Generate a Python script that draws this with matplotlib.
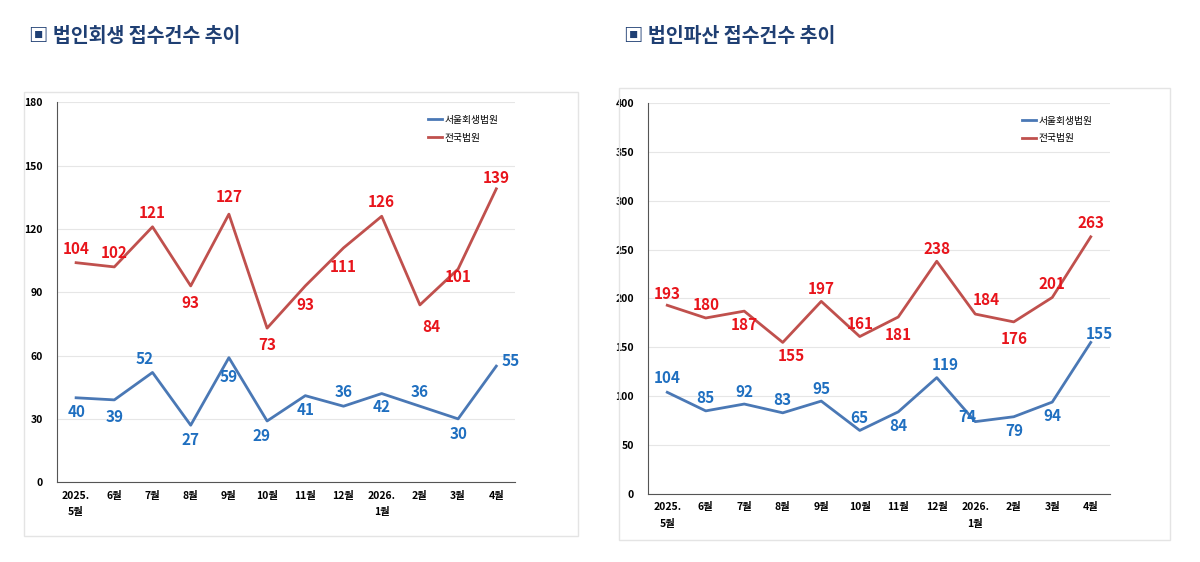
import matplotlib
matplotlib.use("Agg")
import matplotlib.pyplot as plt
from matplotlib.patches import Rectangle

plt.rcParams['font.family'] = ['Noto Sans CJK KR', 'DejaVu Sans']

months = ["2025.\n5월", "6월", "7월", "8월", "9월", "10월", "11월", "12월", "2026.\n1월", "2월", "3월", "4월"]
rehab_seoul = [40, 39, 52, 27, 59, 29, 41, 36, 42, 36, 30, 55]
rehab_nat = [104, 102, 121, 93, 127, 73, 93, 111, 126, 84, 101, 139]
bank_seoul = [104, 85, 92, 83, 95, 65, 84, 119, 74, 79, 94, 155]
bank_nat = [193, 180, 187, 155, 197, 161, 181, 238, 184, 176, 201, 263]
series_names = ["서울회생법원", "전국법원"]
titles = ["▣ 법인회생 접수건수 추이", "▣ 법인파산 접수건수 추이"]

# label offsets (points)
off_rs = [(0, -10), (0, -12), (-6, 10), (0, -11), (0, -14), (-4, -11), (0, -10), (0, 10), (0, -10), (0, 10), (0, -11), (10, 4)]
off_rn = [(0, 10), (0, 10), (0, 10), (0, -12), (0, 12), (0, -12), (0, -14), (0, -14), (0, 10), (8, -16), (0, -6), (0, 8)]
off_bs = [(0, 10), (0, 9), (0, 9), (0, 9), (0, 9), (0, 9), (0, -10), (6, 9), (-6, 3), (0, -10), (0, -10), (6, 6)]
off_bn = [(0, 8), (0, 9), (0, -10), (6, -10), (0, 9), (0, 9), (0, -13), (0, 9), (8, 10), (0, -12), (0, 10), (0, 10)]

fig = plt.figure(figsize=(12, 5.62), dpi=100)
blue = "#4a78b5"
red = "#c0504d"
lblue = "#1f6fc0"
lred = "#e8141b"

panels = [
    dict(rect=[0.0475, 0.142, 0.382, 0.676], box=[0.02, 0.046, 0.462, 0.79], ymax=180, step=30,
         s=rehab_seoul, n=rehab_nat, os=off_rs, on=off_rn, title=titles[0], tx=0.024, leg=(0.79, 0.99)),
    dict(rect=[0.54, 0.121, 0.385, 0.696], box=[0.516, 0.039, 0.459, 0.805], ymax=400, step=50,
         s=bank_seoul, n=bank_nat, os=off_bs, on=off_bn, title=titles[1], tx=0.52, leg=(0.79, 0.99)),
]

for p in panels:
    fig.patches.append(Rectangle((p['box'][0], p['box'][1]), p['box'][2], p['box'][3],
                                 transform=fig.transFigure, fill=False, edgecolor="#e4e4e4", lw=1))
    fig.text(p['tx'], 0.935, p['title'], fontsize=14, fontweight='bold', color="#1f3f73", va='center')
    ax = fig.add_axes(p['rect'])
    x = list(range(len(months)))
    ax.plot(x, p['s'], color=blue, lw=2, label=series_names[0])
    ax.plot(x, p['n'], color=red, lw=2, label=series_names[1])
    for i in x:
        ax.annotate(str(p['s'][i]), (i, p['s'][i]), xytext=p['os'][i], textcoords='offset points',
                    ha='center', va='center', color=lblue, fontsize=11, fontweight='bold')
        ax.annotate(str(p['n'][i]), (i, p['n'][i]), xytext=p['on'][i], textcoords='offset points',
                    ha='center', va='center', color=lred, fontsize=11, fontweight='bold')
    ax.set_xlim(-0.5, len(months) - 0.5)
    ax.set_ylim(0, p['ymax'])
    ax.set_yticks(range(0, p['ymax'] + 1, p['step']))
    ax.set_xticks(x)
    ax.set_xticklabels(months, fontsize=7.5, fontweight='bold', va='top', linespacing=1.8)
    ax.tick_params(axis='y', labelsize=7.5, length=0, pad=10)
    ax.tick_params(axis='x', length=0, pad=6)
    for lbl in ax.get_yticklabels():
        lbl.set_fontweight('bold')
    ax.grid(axis='y', color="#e6e6e6", lw=0.8)
    ax.set_axisbelow(True)
    for sp in ['top', 'right']:
        ax.spines[sp].set_visible(False)
    ax.spines['left'].set_color("#555555")
    ax.spines['bottom'].set_color("#555555")
    ax.legend(loc='upper left', bbox_to_anchor=p['leg'], frameon=False, fontsize=7,
              handlelength=1.5, handletextpad=0.2, labelspacing=0.8)

fig.savefig("out.png", dpi=100, facecolor="white")
